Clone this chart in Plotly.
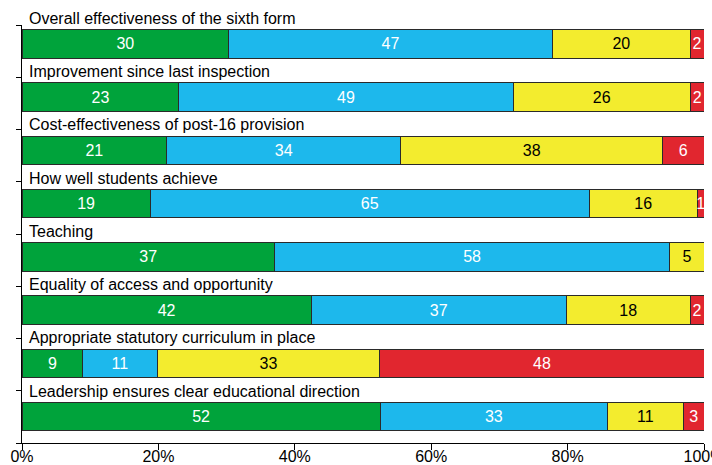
import plotly.graph_objects as go

categories = [
    "Overall effectiveness of the sixth form",
    "Improvement since last inspection",
    "Cost-effectiveness of post-16 provision",
    "How well students achieve",
    "Teaching",
    "Equality of access and opportunity",
    "Appropriate statutory curriculum in place",
    "Leadership ensures clear educational direction",
]
green_vals = [30, 23, 21, 19, 37, 42, 9, 52]
blue_vals = [47, 49, 34, 65, 58, 37, 11, 33]
yellow_vals = [20, 26, 38, 16, 5, 18, 33, 11]
red_vals = [2, 2, 6, 1, 0, 2, 48, 3]
x_ticks = [0, 20, 40, 60, 80, 100]
x_tick_labels = ["0%", "20%", "40%", "60%", "80%", "100%"]

series = [
    (green_vals, "#00A33B", "white"),
    (blue_vals, "#1DB8EC", "white"),
    (yellow_vals, "#F3EC2E", "black"),
    (red_vals, "#E1262F", "white"),
]

FONT = "Liberation Sans, Arial, Helvetica, sans-serif"
W, H = 712, 465
TOP, BOTTOM = 25, 443.3
ROW_PX = 53.29          # spacing of bars (px)
FIRST_CENTER = 43.8     # pixel of first bar centre
TICK_PX = 52.29         # spacing of left-axis ticks (px)

def px_to_y(p):
    return (p - FIRST_CENTER) / ROW_PX

rows = list(range(len(categories)))
y_ticks = [px_to_y(TOP + TICK_PX * k) for k in range(9)]

fig = go.Figure()
for vals, color, tcolor in series:
    fig.add_trace(go.Bar(
        y=rows, x=vals, orientation="h", width=28.5 / ROW_PX,
        marker=dict(color=color, line=dict(color="#2a2a2a", width=1)),
        text=[str(v) if v else "" for v in vals],
        textposition="inside", insidetextanchor="middle", textangle=0,
        textfont=dict(color=tcolor, size=16, family=FONT),
        hoverinfo="skip", showlegend=False,
    ))

for i, c in enumerate(categories):
    fig.add_annotation(
        x=0, xref="paper", y=i, yref="y", text=c, showarrow=False,
        xanchor="left", yanchor="middle", xshift=5, yshift=25.5,
        font=dict(size=16, color="black", family=FONT),
    )

fig.update_layout(
    width=W, height=H,
    margin=dict(l=22.3, r=8, t=TOP, b=H - BOTTOM, pad=0),
    barmode="stack", barnorm="percent",
    plot_bgcolor="white", paper_bgcolor="white",
    uniformtext=dict(minsize=16, mode="show"),
    font=dict(family=FONT, size=16, color="black"),
)
fig.update_xaxes(
    range=[0, 100], tickvals=x_ticks, ticktext=x_tick_labels,
    showline=True, linecolor="black", linewidth=1,
    ticks="outside", ticklen=6, tickcolor="black",
    showgrid=False, zeroline=False, ticklabeloverflow="allow",
    automargin=False, ticklabelstandoff=-7,
    tickfont=dict(size=16, color="black", family=FONT),
)
fig.update_yaxes(
    range=[px_to_y(BOTTOM), px_to_y(TOP)], tickvals=y_ticks, showticklabels=False,
    showline=True, linecolor="black", linewidth=1,
    ticks="outside", ticklen=5, tickcolor="black",
    showgrid=False, zeroline=False, automargin=False,
)
fig.write_html("out.html")
